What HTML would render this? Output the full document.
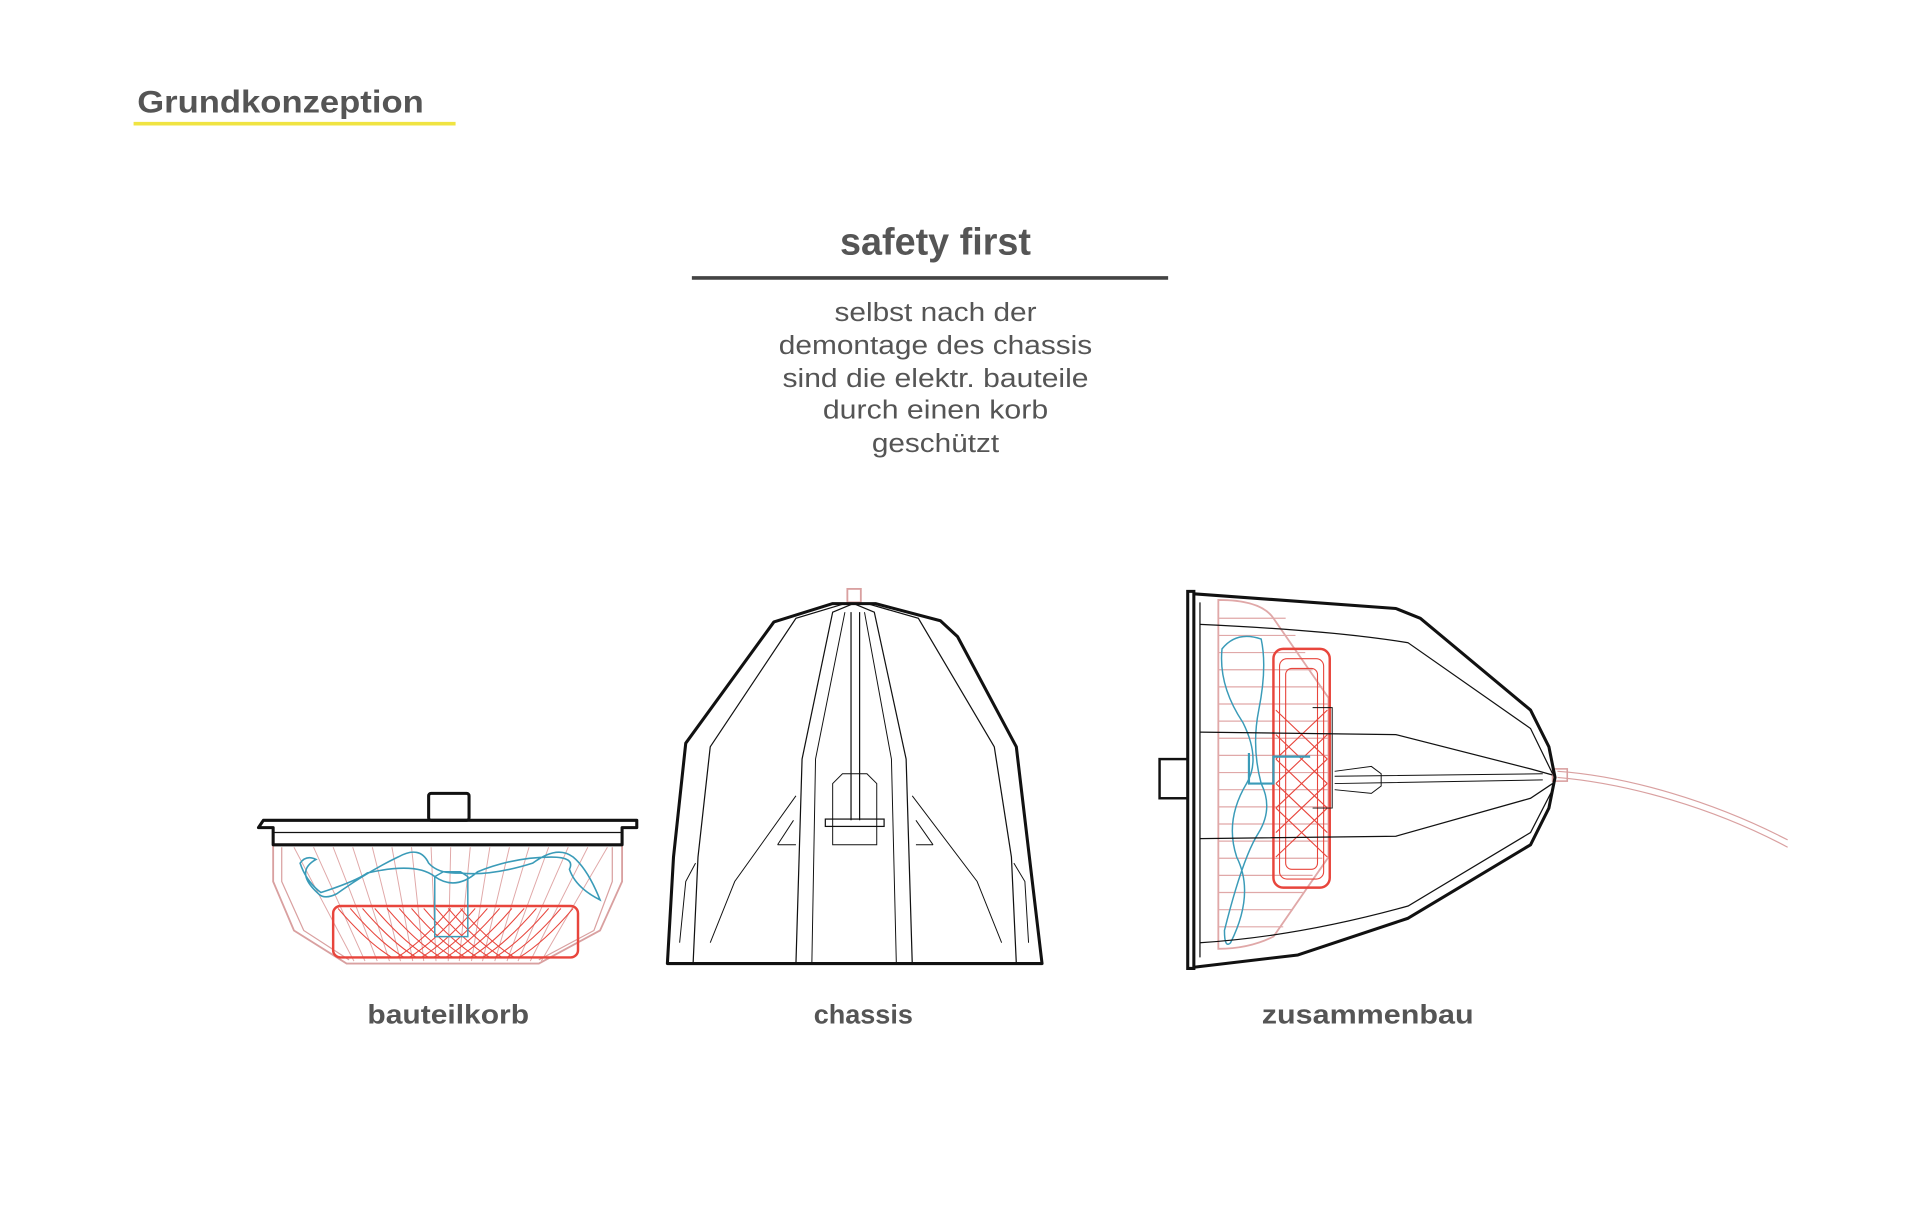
<!DOCTYPE html>
<html><head><meta charset="utf-8"><style>
html,body{margin:0;padding:0;background:#fff;}
svg{display:block;}
text{font-family:"Liberation Sans",sans-serif;fill:#555;}
</style></head><body>
<svg width="1920" height="1228" viewBox="0 0 1568 1003" xmlns="http://www.w3.org/2000/svg">
<text x="112" y="92" font-size="26" font-weight="bold" fill="#555" textLength="234" lengthAdjust="spacingAndGlyphs">Grundkonzeption</text>
<line x1="109" y1="101" x2="372" y2="101" stroke="#f0e442" stroke-width="3"/>
<text x="764" y="208" font-size="31" font-weight="bold" text-anchor="middle" textLength="156" lengthAdjust="spacingAndGlyphs">safety first</text>
<line x1="565" y1="227" x2="954" y2="227" stroke="#444" stroke-width="3"/>
<g font-size="21" text-anchor="middle" fill="#555">
<text x="764" y="262" textLength="165" lengthAdjust="spacingAndGlyphs">selbst nach der</text>
<text x="764" y="289" textLength="256" lengthAdjust="spacingAndGlyphs">demontage des chassis</text>
<text x="764" y="316" textLength="250" lengthAdjust="spacingAndGlyphs">sind die elektr. bauteile</text>
<text x="764" y="342" textLength="184" lengthAdjust="spacingAndGlyphs">durch einen korb</text>
<text x="764" y="369" textLength="104" lengthAdjust="spacingAndGlyphs">geschützt</text>
</g>
<g font-size="22" font-weight="bold" text-anchor="middle">
<text x="366" y="836" textLength="132" lengthAdjust="spacingAndGlyphs">bauteilkorb</text>
<text x="705" y="836" textLength="81" lengthAdjust="spacingAndGlyphs">chassis</text>
<text x="1117" y="836" textLength="173" lengthAdjust="spacingAndGlyphs">zusammenbau</text>
</g>

<!-- bauteilkorb -->
<g fill="none">
<path d="M223 690 L223 720 L240 760 L283 787 L440 787 L490 760 L508 720 L508 690" stroke="#d9a0a0" stroke-width="1.5"/>
<path d="M230 692 L230 720 L248 760 L285 784 M500 692 L500 720 L485 760 L440 784" stroke="#d9a0a0" stroke-width="1"/>
<g stroke="#e0a8a8" stroke-width="0.8">
<path d="M240 692 L289 785 M256 692 L298 785 M272 692 L308 785 M288 692 L318 785 M304 692 L327 785 M320 692 L337 785 M336 692 L346 785 M352 692 L356 785 M368 692 L366 785 M384 692 L375 785 M400 692 L385 785 M416 692 L394 785 M432 692 L404 785 M448 692 L414 785 M464 692 L423 785 M480 692 L433 785 M496 692 L442 785"/>
</g>
<rect x="272" y="740" width="200" height="42" rx="6" stroke="#e8453c" stroke-width="2"/>
<g stroke="#e8453c" stroke-width="0.9">
<path d="M276 742 Q300 770 320 782 M286 742 Q310 770 330 782 M296 742 Q320 770 340 782 M306 742 Q330 770 350 782 M316 742 Q340 770 360 782 M326 742 Q350 770 370 782 M336 742 Q360 770 380 782 M346 742 Q370 770 390 782 M356 742 Q380 770 400 782 M366 742 Q390 770 410 782 M376 742 Q400 770 420 782"/>
<path d="M468 742 Q444 770 424 782 M458 742 Q434 770 414 782 M448 742 Q424 770 404 782 M438 742 Q414 770 394 782 M428 742 Q404 770 384 782 M418 742 Q394 770 374 782 M408 742 Q384 770 364 782 M398 742 Q374 770 354 782 M388 742 Q364 770 344 782 M378 742 Q354 770 334 782 M368 742 Q344 770 324 782"/>
</g>
<path d="M258 702 Q250 698 245 705 Q250 720 262 729 Q290 720 300 713 Q340 704 355 716 Q372 728 390 712 Q420 700 450 700 Q470 700 465 710 Q470 725 490 735 Q480 710 468 700 Q455 690 435 705 Q400 716 375 713 Q358 714 350 705 Q343 690 325 700 Q300 712 275 730 Q265 735 260 730 Q240 712 258 702 Z" stroke="#3a9bb8" stroke-width="1.3"/>
<path d="M355 716 L355 765 L382 765 L382 716 L376 712 L362 712 Z" stroke="#3a9bb8" stroke-width="1.2"/>
<path d="M211 676 L215 670 L520 670 L520 676 L508 676 L508 690 L223 690 L223 676 Z" stroke="#111" stroke-width="2.5" stroke-linejoin="round"/>
<line x1="223" y1="680" x2="508" y2="680" stroke="#111" stroke-width="1"/>
<rect x="350" y="648" width="33" height="22" rx="2" stroke="#111" stroke-width="2.5"/>
</g>

<!-- chassis -->
<g fill="none" stroke="#111">
<rect x="692" y="481" width="11" height="11" stroke="#d9a0a0" stroke-width="1.5"/>
<path d="M545 787 L550 700 L560 607 L632 508 L680 493 L715 493 L768 507 L782 520 L830 610 L851 787 Z" stroke-width="2.5" stroke-linejoin="round"/>
<path d="M566 787 L570 700 L580 610 L650 505 L690 493" stroke-width="1"/>
<path d="M830 787 L826 700 L812 610 L750 505 L708 493" stroke-width="1"/>
<path d="M650 787 L655 620 L680 500 L697 493 L714 500 L740 620 L745 787" stroke-width="1"/>
<path d="M663 787 L666 620 L690 500 M732 787 L728 620 L706 500" stroke-width="0.8"/>
<path d="M695 500 L695 670 M702 500 L702 670" stroke-width="1"/>
<rect x="674" y="669" width="48" height="6" stroke-width="1"/>
<path d="M680 690 L680 640 L688 632 L708 632 L716 640 L716 690 Z" stroke-width="0.8"/>
<path d="M555 770 L560 720 L568 705 M840 770 L837 720 L828 705" stroke-width="0.8"/>
<path d="M635 690 L648 670 M762 690 L748 670 M635 690 L650 690 M748 690 L762 690" stroke-width="0.8"/>
<path d="M580 770 L600 720 L650 650 M818 770 L798 720 L745 650" stroke-width="0.8"/>
</g>

<!-- zusammenbau -->
<g fill="none">
<path d="M1272 635 C1330 640 1400 660 1460 692 M1272 630 C1330 634 1400 655 1460 686" stroke="#d9a0a0" stroke-width="1"/>
<rect x="1268" y="628" width="12" height="10" stroke="#d9a0a0" stroke-width="1.3"/>
<g stroke="#e0a8a8" stroke-width="1">
<path d="M995 490 Q1030 490 1040 505 L1085 570 L1085 700 L1040 765 Q1020 775 995 775 Z" stroke-width="1.5"/>
<path d="M995 505 L1050 505 M995 519 L1058 519 M995 533 L1066 533 M995 547 L1072 547 M995 561 L1080 561 M995 575 L1085 575 M995 589 L1085 589 M995 603 L1085 603 M995 617 L1085 617 M995 631 L1085 631 M995 645 L1085 645 M995 659 L1085 659 M995 673 L1085 673 M995 687 L1085 687 M995 701 L1080 701 M995 715 L1072 715 M995 729 L1064 729 M995 743 L1056 743 M995 757 L1048 757"/>
</g>
<rect x="1040" y="530" width="46" height="195" rx="8" stroke="#e8453c" stroke-width="2"/>
<g stroke="#e8453c" stroke-width="0.9">
<rect x="1045" y="538" width="36" height="180" rx="6"/>
<rect x="1050" y="546" width="26" height="164" rx="5"/>
<path d="M1042 580 L1084 620 M1042 600 L1084 640 M1042 620 L1084 660 M1042 640 L1084 680 M1042 660 L1084 700 M1084 580 L1042 620 M1084 600 L1042 640 M1084 620 L1042 660 M1084 640 L1042 680 M1084 660 L1042 700"/>
</g>
<path d="M1030 522 Q1010 515 998 530 Q995 560 1015 590 Q1030 620 1018 640 Q1000 670 1010 700 Q1025 730 1005 770 Q1000 775 1000 760 Q1015 700 1028 680 Q1040 660 1030 640 Q1022 610 1028 580 Q1035 545 1030 522 Z" stroke="#3a9bb8" stroke-width="1.2"/>
<path d="M1020 615 L1020 640 L1040 640 L1040 618 L1070 618" stroke="#3a9bb8" stroke-width="1.8"/>
<g stroke="#111">
<path d="M975 485 L1140 497 L1160 505 L1250 580 L1265 610 L1270 635 L1265 660 L1250 690 L1150 750 L1060 780 L975 790" stroke-width="2.5" stroke-linejoin="round"/>
<path d="M970 483 L975 483 L975 791 L970 791 Z" stroke-width="2.5"/>
<path d="M980 492 L980 782" stroke-width="1"/>
<rect x="947" y="620" width="23" height="32" stroke-width="2"/>
<path d="M980 510 Q1090 515 1150 525 L1250 595 L1268 632" stroke-width="1"/>
<path d="M980 598 L1140 600 L1250 628 L1268 633" stroke-width="1"/>
<path d="M980 685 L1140 683 L1250 652 L1268 640" stroke-width="1"/>
<path d="M980 770 Q1060 765 1150 740 L1250 680 L1268 645" stroke-width="1"/>
<path d="M1090 630 L1120 626 L1128 632 L1128 642 L1120 648 L1090 645" stroke-width="0.8"/>
<path d="M1090 634 L1260 632 M1090 640 L1260 637" stroke-width="0.8"/>
<path d="M1072 578 L1088 578 L1088 660 L1072 660" stroke-width="0.8"/>
</g>
</g>
</svg>
</body></html>
